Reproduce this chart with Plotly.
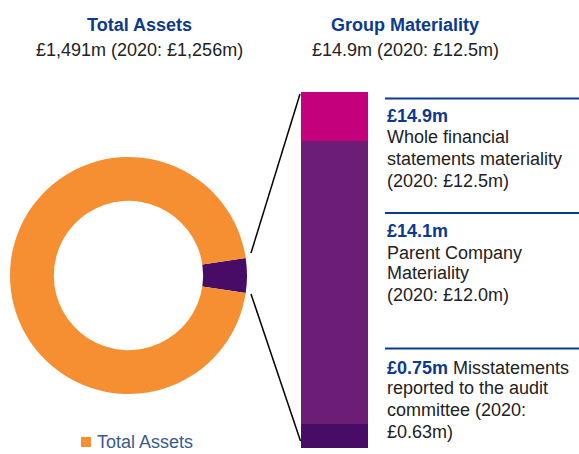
import plotly.graph_objects as go

W, H = 579, 454

# ---- data ----
donut_labels = ["Group Materiality", "Total Assets"]
donut_share = [4.75, 95.25]          # visual share of the ring (%)
bar_segments = ["Misstatements", "Parent Company Materiality", "Whole financial statements materiality"]
bar_heights = [1.0, 11.85, 2.05]     # visual heights of the stacked bar (£m scale)

left_title = "Total Assets"
left_sub = "£1,491m (2020: £1,256m)"
right_title = "Group Materiality"
right_sub = "£14.9m (2020: £12.5m)"
legend_label = "Total Assets"

block1 = ["<b>£14.9m</b>", "Whole financial", "statements materiality", "(2020: £12.5m)"]
block2 = ["<b>£14.1m</b>", "Parent Company", "Materiality", "(2020: £12.0m)"]
block3 = ["<b>£0.75m</b> <span style='color:#222222'>Misstatements</span>",
          "reported to the audit", "committee (2020:", "£0.63m)"]

# ---- colours ----
ORANGE = "#F58F31"
DARK = "#490C66"
PURPLE = "#6C1E77"
MAGENTA = "#C4007C"
BLUE = "#0B3A8F"
TEXT = "#222222"
FONT = "Liberation Sans, Arial, sans-serif"


def px(x):
    return x / W


def py(y):
    return 1 - y / H


fig = go.Figure()

fig.add_trace(go.Pie(
    labels=donut_labels, values=donut_share, hole=0.63, sort=False,
    direction="clockwise", rotation=90 - donut_share[0] * 3.6 / 2,
    marker=dict(colors=[DARK, ORANGE], line=dict(width=0)),
    textinfo="none", hoverinfo="label", showlegend=False,
    domain=dict(x=[px(10), px(247)], y=[py(394), py(157)]),
))

bar_colors = [DARK, PURPLE, MAGENTA]
for name, h, c in zip(bar_segments, bar_heights, bar_colors):
    fig.add_trace(go.Bar(
        x=[0], y=[h], name=name, marker=dict(color=c, line=dict(width=0)),
        width=1, xaxis="x2", yaxis="y2", showlegend=False, hoverinfo="name",
    ))

fig.update_layout(
    width=W, height=H, margin=dict(l=0, r=0, t=0, b=0),
    paper_bgcolor="white", plot_bgcolor="white",
    barmode="stack", bargap=0,
    font=dict(family=FONT, size=18, color=TEXT),
    xaxis2=dict(domain=[px(301), px(368)], range=[-0.5, 0.5], visible=False,
                anchor="y2", fixedrange=True),
    yaxis2=dict(domain=[py(448), py(92)], range=[0, sum(bar_heights)], visible=False,
                anchor="x2", fixedrange=True),
    showlegend=False,
)

ann = []


def add_text(x, y, text, color=TEXT, xanchor="left", size=18):
    ann.append(dict(x=px(x), y=py(y), xref="paper", yref="paper", text=text,
                    showarrow=False, xanchor=xanchor, yanchor="middle",
                    font=dict(family=FONT, size=size, color=color)))


add_text(139, 25, "<b>" + left_title + "</b>", BLUE, "center")
add_text(139, 50, left_sub, TEXT, "center")
add_text(405, 25, "<b>" + right_title + "</b>", BLUE, "center")
add_text(405, 50, right_sub, TEXT, "center")

for block, ys in [(block1, [116, 137, 159, 181]),
                  (block2, [231, 253, 273, 295]),
                  (block3, [368, 388, 410, 432])]:
    for i, (t, y) in enumerate(zip(block, ys)):
        add_text(385, y, t, BLUE if i == 0 else TEXT)

add_text(95, 442, legend_label, "#3A5A8C")
fig.update_layout(annotations=ann)

shapes = []
# rules above each text block
for y in [98.5, 213, 348.5]:
    shapes.append(dict(type="line", xref="paper", yref="paper",
                       x0=px(385), x1=px(579), y0=py(y), y1=py(y),
                       line=dict(color=BLUE, width=2)))
# connector lines from donut slice to the bar
shapes.append(dict(type="line", xref="paper", yref="paper",
                   x0=px(251), y0=py(253), x1=px(300), y1=py(94),
                   line=dict(color="black", width=1.5)))
shapes.append(dict(type="line", xref="paper", yref="paper",
                   x0=px(251), y0=py(294), x1=px(300.5), y1=py(441),
                   line=dict(color="black", width=1.5)))
# legend swatch
shapes.append(dict(type="rect", xref="paper", yref="paper",
                   x0=px(81), x1=px(91), y0=py(447), y1=py(437),
                   fillcolor=ORANGE, line=dict(width=0)))
fig.update_layout(shapes=shapes)

fig.write_html("out.html", post_script="document.body.style.margin='0';",
               config={"displayModeBar": False})
